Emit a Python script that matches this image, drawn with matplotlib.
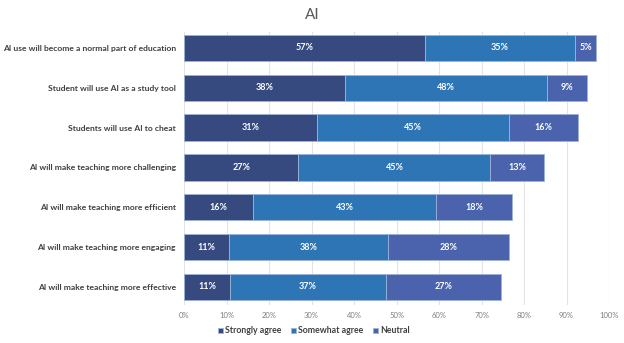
import numpy as np
import matplotlib.pyplot as plt

plt.rcParams['font.family'] = ['Lato', 'DejaVu Sans']

statements = [
    "AI use will become a normal part of education",
    "Student will use AI as a study tool",
    "Students will use AI to cheat",
    "AI will make teaching more challenging",
    "AI will make teaching more efficient",
    "AI will make teaching more engaging",
    "AI will make teaching more effective",
]
strongly_agree = [56.6, 37.8, 31.2, 26.9, 16.3, 10.6, 10.8]
somewhat_agree = [35.4, 47.6, 45.2, 45.2, 43.1, 37.5, 36.6]
neutral = [4.9, 9.3, 16.3, 12.7, 17.7, 28.3, 27.2]

series = [("Strongly agree", strongly_agree, "#364A80"),
          ("Somewhat agree", somewhat_agree, "#2E75B6"),
          ("Neutral", neutral, "#4A63AC")]

fig = plt.figure(figsize=(6.24, 3.43), dpi=100)
ax = fig.add_axes([0.295, 0.111, 0.681, 0.796])

y = np.arange(len(statements))
left = np.zeros(len(statements))
for name, vals, color in series:
    vals = np.array(vals)
    bars = ax.barh(y, vals, left=left, height=0.66, color=color,
                   edgecolor="#9DB3D9", linewidth=0.6, label=name, zorder=2)
    for b, v in zip(bars, vals):
        ax.text(b.get_x() + b.get_width() / 2, b.get_y() + b.get_height() / 2,
                f"{round(v)}%", ha="center", va="center", color="white",
                fontsize=6.5, fontweight="bold", zorder=3)
    left += vals

ax.set_xlim(0, 100)
ax.set_ylim(6.45, -0.4)
ax.set_xticks(np.arange(0, 101, 10))
ax.set_xticklabels([f"{t}%" for t in range(0, 101, 10)], fontsize=5.5, color="#7F7F7F")
ax.set_yticks(y)
ax.set_yticklabels(statements, fontsize=6.1, fontweight="bold", color="#404040")
ax.tick_params(axis="both", length=0, pad=5)
ax.tick_params(axis="y", pad=6)
ax.grid(axis="x", color="#E3E3E3", linewidth=0.8, zorder=0)
for s in ax.spines.values():
    s.set_visible(False)

fig.text(0.5, 0.955, "AI", ha="center", va="center", fontsize=11, color="#595959")

ax.legend(loc="upper center", bbox_to_anchor=(0.305, -0.05), ncol=3, frameon=False,
          handlelength=0.55, handleheight=0.55, handletextpad=0.25,
          columnspacing=1.1, prop={"weight": "bold", "size": 6.3})
leg = ax.get_legend()
for t in leg.get_texts():
    t.set_color("#404040")

fig.savefig("out.png", dpi=100)
